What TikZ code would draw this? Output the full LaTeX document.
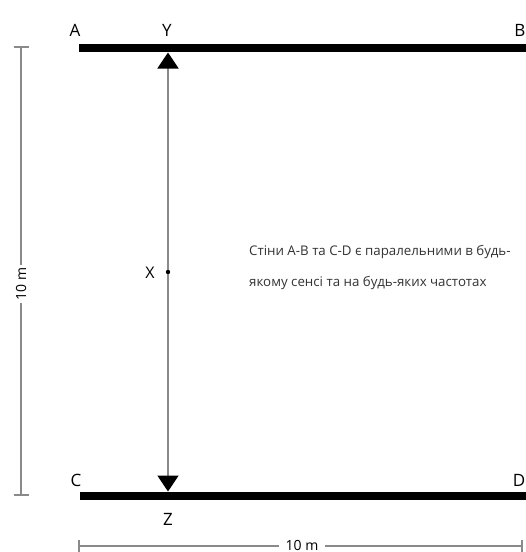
\documentclass[tikz,border=0pt]{standalone}
\usepackage{fontspec}
\setmainfont{Open Sans}
\usepackage{tikz}
\usetikzlibrary{arrows.meta,positioning}
\definecolor{DimGray}{HTML}{8A8A8A}

\begin{document}
\begin{tikzpicture}[
      x=1pt,
      y=-1pt,
      wall/.style={line width=7.5pt,draw=black},
      dim/.style={draw=DimGray,line width=1.3pt},
      lbl/.style={font=\fontsize{17}{17}\selectfont,inner sep=0pt},
      dimlbl/.style={font=\fontsize{14}{14}\selectfont,fill=white,inner sep=3pt},
      path/.style={draw=DimGray,line width=2pt,
        {Triangle[width=21pt,length=16pt,color=black]}-{Triangle[width=21pt,length=16pt,color=black]}}
    ]
      \useasboundingbox[fill=white] (0,0) rectangle (526,552);
      \clip (0,0) rectangle (526,552);
      % walls
      \coordinate (wallA) at (79,48);
      \coordinate (wallB) at (540,48);
      \coordinate (wallC) at (80,496);
      \coordinate (wallD) at (540,496);
      \draw[wall] (wallA) -- (wallB);
      \draw[wall] (wallC) -- (wallD);
      \node[lbl] (A) at (75,30) {A};
      \node[lbl,anchor=east] (B) at (525.5,30) {B};
      \node[lbl] (C) at (76,480) {C};
      \node[lbl,anchor=east] (D) at (525.5,480) {D};
      % sound path
      \coordinate (pY) at (168,52.5);
      \coordinate (pZ) at (168,491.5);
      \node[lbl] (Y) at (167,30) {Y};
      \node[lbl] (Z) at (168,519) {Z};
      \draw[path] (pZ) -- (pY);
      \fill (168,272) circle (2.2pt) coordinate (pX);
      \node[lbl,font=\fontsize{16}{16}\selectfont] (X) at (150,273) {X};
      % dimensions
      \coordinate (lTop) at (21,47);
      \coordinate (lBot) at (21,495);
      \draw[dim] (lTop) -- (lBot);
      \draw[dim] ([xshift=-7.5pt]lTop) -- ([xshift=7.5pt]lTop);
      \draw[dim] ([xshift=-7.5pt]lBot) -- ([xshift=7.5pt]lBot);
      \node[dimlbl,rotate=90] (hDim) at (21,284) {10 m};
      \coordinate (bLeft) at (79,546);
      \coordinate (bRight) at (522,546);
      \draw[dim] (bLeft) -- (bRight);
      \draw[dim] ([yshift=-6.5pt]bLeft) -- ([yshift=6.5pt]bLeft);
      \draw[dim] ([yshift=-6.5pt]bRight) -- ([yshift=6.5pt]bRight);
      \node[dimlbl,inner xsep=7pt] (wDim) at (302,545) {10 m};
      % note
      \node[anchor=north west,align=left,inner sep=0pt,
        font=\fontsize{13.3}{31}\selectfont,text=black!80] (note) at (249,245)
        {Стіни A-B та C-D є паралельними в будь-\\якому сенсі та на будь-яких частотах};
    \end{tikzpicture}
\end{document}
